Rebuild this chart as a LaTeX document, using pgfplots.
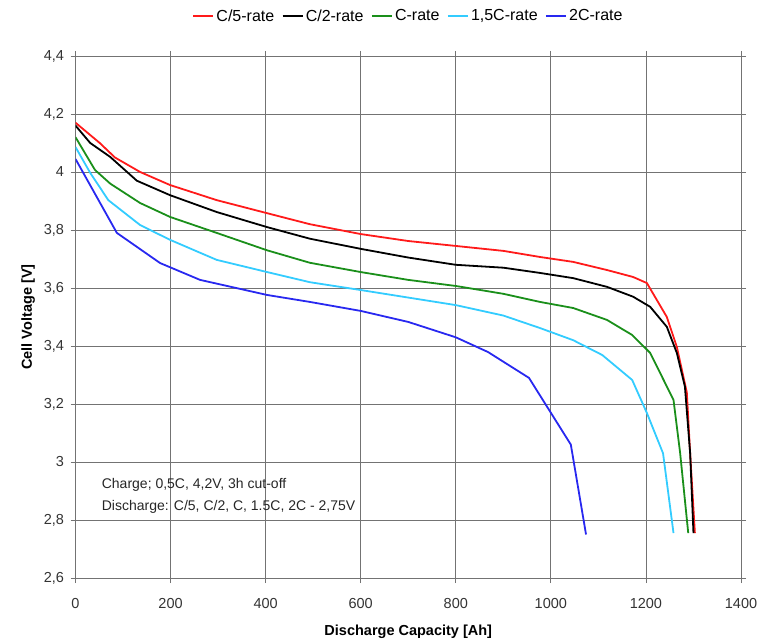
\documentclass[border=0pt]{standalone}
\usepackage{pgfplots}
\pgfplotsset{compat=1.18}
\usepackage{fontspec}
\setmainfont{Liberation Sans}
\definecolor{cred}{HTML}{FF1A1A}
\definecolor{cgreen}{HTML}{1A8F1A}
\definecolor{ccyan}{HTML}{33CCFF}
\definecolor{cblue}{HTML}{2828F0}
\begin{document}
\begin{tikzpicture}
\path[use as bounding box] (-75.5pt,-65pt) rectangle (686.5pt,578pt);
\begin{axis}[
  at={(0,0)}, anchor=south west,
  scale only axis, width=665.5pt, height=522pt,
  xmin=0, xmax=1400, ymin=2.6, ymax=4.4,
  xtick={0,200,...,1400},
  ytick={2.6,2.8,3,3.2,3.4,3.6,3.8,4,4.2,4.4},
  grid=major,
  major grid style={black!55, line width=0.8pt},
  axis line style={black!55, line width=0.8pt},
  tick style={black!55, line width=0.8pt},
  tick align=outside, major tick length=5pt,
  /pgf/number format/assume math mode=true,
  /pgf/number format/use comma,
  /pgf/number format/1000 sep={},
  ticklabel style={font=\fontsize{14.5}{16}\selectfont, text=black!80},
  xticklabel style={yshift=-12pt},
  yticklabel style={xshift=-3pt},
  xlabel={\textbf{Discharge Capacity [Ah]}},
  ylabel={\textbf{Cell Voltage [V]}},
  label style={font=\fontsize{14.5}{16}\selectfont},
  xlabel style={yshift=-9pt},
  ylabel style={yshift=2pt},
  legend columns=-1,
  legend style={at={(0.5,1.0766)}, anchor=center, draw=none, fill=none,
    font=\fontsize{16}{18}\selectfont,
    /tikz/every even column/.append style={column sep=5pt}},
  legend image code/.code={\draw[#1, line width=2.5pt] (0pt,0pt) -- (20pt,0pt);},
  every axis plot/.append style={line width=1.8pt, line join=round},
]
\addplot[cred] coordinates {(0,4.17)(51,4.10)(83,4.05)(136,4.00)(199,3.955)(297,3.903)(403,3.858)(493,3.82)(600,3.786)(700,3.762)(800,3.745)(900,3.728)(977,3.707)(1047,3.69)(1118,3.662)(1173,3.638)(1202,3.617)(1244,3.50)(1265,3.397)(1286,3.24)(1293,3.03)(1303,2.755)};
\addlegendentry{C/5-rate}
\addplot[black] coordinates {(0,4.16)(31,4.10)(73,4.052)(129,3.97)(199,3.92)(297,3.862)(403,3.81)(493,3.77)(600,3.735)(700,3.705)(800,3.68)(900,3.67)(977,3.652)(1047,3.634)(1118,3.604)(1173,3.57)(1209,3.535)(1244,3.466)(1265,3.376)(1282,3.26)(1293,3.03)(1300,2.755)};
\addlegendentry{C/2-rate}
\addplot[cgreen] coordinates {(0,4.12)(41,4.007)(73,3.96)(136,3.893)(199,3.845)(297,3.79)(403,3.73)(493,3.687)(600,3.655)(700,3.628)(800,3.607)(900,3.58)(977,3.552)(1047,3.531)(1118,3.49)(1171,3.438)(1209,3.376)(1258,3.214)(1272,3.03)(1289,2.755)};
\addlegendentry{C-rate}
\addplot[ccyan] coordinates {(0,4.086)(31,3.997)(69,3.903)(136,3.817)(199,3.766)(297,3.697)(403,3.655)(493,3.62)(600,3.593)(700,3.567)(800,3.541)(900,3.505)(977,3.462)(1047,3.42)(1108,3.369)(1171,3.283)(1202,3.169)(1236,3.03)(1258,2.755)};
\addlegendentry{1,5C-rate}
\addplot[cblue] coordinates {(0,4.045)(87,3.79)(178,3.686)(262,3.628)(403,3.576)(493,3.552)(600,3.521)(700,3.483)(800,3.43)(868,3.379)(954,3.29)(1042,3.06)(1074,2.75)};
\addlegendentry{2C-rate}
\node[anchor=west, font=\fontsize{14}{16}\selectfont, text=black!85] at (axis cs:48,2.92) {Charge; 0,5C, 4,2V, 3h cut-off};
\node[anchor=west, font=\fontsize{14}{16}\selectfont, text=black!85] at (axis cs:48,2.845) {Discharge: C/5, C/2, C, 1.5C, 2C - 2,75V};
\end{axis}
\end{tikzpicture}
\end{document}
